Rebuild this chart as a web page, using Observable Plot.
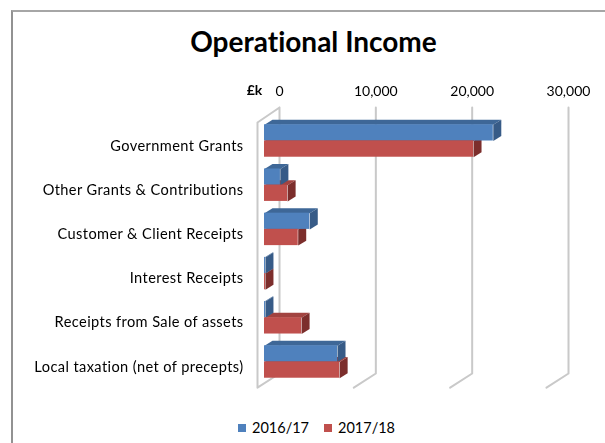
<!DOCTYPE html>
<html><head><meta charset="utf-8">
<script src="https://cdn.jsdelivr.net/npm/d3@7"></script>
<script src="https://cdn.jsdelivr.net/npm/@observablehq/plot@0.6"></script>
<style>
html,body{margin:0;padding:0;background:#fff;overflow:hidden}
body{width:605px;height:443px;position:relative;font-family:Lato,sans-serif;color:#000;font-variant-ligatures:none}
#frame{position:absolute;left:11px;top:10px;right:0;bottom:0;border-left:2px solid #929292;border-top:2px solid #a6a6a6}
#title{position:absolute;left:22px;right:0;top:23px;text-align:center;font-weight:700;font-size:28px;line-height:36px}
#chart{position:absolute;left:0;top:70px;filter:blur(.35px)}
#chart g[aria-label="y-axis tick label"] text{letter-spacing:.4px}
#legend{position:absolute;left:238px;top:419px;display:flex;align-items:center;font-size:14.5px;line-height:18px}
#legend i{display:inline-block;width:8px;height:8px;margin-right:6px}
#legend span{display:flex;align-items:center;margin-right:15px}
</style></head>
<body>
<div id="frame"></div>
<div id="title">Operational Income</div>
<div id="chart"></div>
<div id="legend"></div>
<script>
const categories = ["Government Grants","Other Grants & Contributions","Customer & Client Receipts","Interest Receipts","Receipts from Sale of assets","Local taxation (net of precepts)"];
const series = ["2016/17","2017/18"];
const values2016 = [23750,1650,4700,100,100,7580];
const values2017 = [21700,2400,3500,100,3850,7800];
const xTicks = [0,10000,20000,30000];
const blue = {front:"#4f81bd",top:"#3e6797",side:"#375b87"};
const red = {front:"#c0504d",top:"#a24340",side:"#7c2e2c"};
const unitLabel = "£k";

// depth of the 3D projection, in data units
const barDx = 830, barDy = 0.113, barH = 0.367;
const wallFrontX = -727, wallBackX = 1558;
const wallTopBack = -0.758, wallTopFront = -0.419, wallBotBack = 5.26, wallBotFront = 5.58;

const rows = (vals, off) => vals.map((v,i)=>({v,i,y1:i+off-barH,y2:i+off}));
const b = rows(values2016,0), r = rows(values2017,barH);

const poly = pts => pts.map(([x,y,k])=>({x,y,k}));
const topFaces = s => s.flatMap((d,n)=>poly([[0,d.y1,n],[d.v,d.y1,n],[d.v+barDx,d.y1-barDy,n],[barDx,d.y1-barDy,n]]));
const sideFaces = s => s.flatMap((d,n)=>poly([[d.v,d.y1,n],[d.v+barDx,d.y1-barDy,n],[d.v+barDx,d.y2-barDy,n],[d.v,d.y2,n]]));
const faceMark = (pts,fill)=>Plot.line(pts,{x:"x",y:"y",z:"k",fill,stroke:"none",curve:"linear"});
const grid = xTicks.flatMap(t=>{
  const pts = t===0
   ? [[t+wallBackX,wallTopBack],[t+wallFrontX,wallTopFront],[t+wallFrontX,wallBotFront],[t+wallBackX,wallBotBack],[t+wallBackX,wallTopBack]]
   : [[t+wallBackX,wallTopBack],[t+wallBackX,wallBotBack],[t+wallFrontX,wallBotFront]];
  return pts.map(([x,y])=>({x,y,k:t}));
});
const backFaces = (s,c)=>[faceMark(topFaces(s),c.top),faceMark(sideFaces(s),c.side)];
const frontFace = (s,c)=>Plot.rect(s,{x1:0,x2:"v",y1:"y1",y2:"y2",fill:c.front});
const plot = Plot.plot({
  width:605,height:330,
  marginLeft:264,marginRight:52,marginTop:48.4,marginBottom:16.4,
  style:{fontFamily:"Lato, sans-serif",fontSize:"14px",background:"transparent",overflow:"visible",fontVariantLigatures:"none"},
  x:{domain:[0,30000],label:null},
  y:{domain:[-0.5,5.5],reverse:true,label:null},
  marks:[
    Plot.line(grid,{x:"x",y:"y",z:"k",stroke:"#c9c9c9",strokeWidth:2,curve:"linear"}),
    ...backFaces(r,red),
    ...backFaces(b,blue),
    frontFace(b,blue),
    frontFace(r,red),
    Plot.axisX({anchor:"top",ticks:xTicks,tickSize:0,tickPadding:0,tickFormat:d3.format(","),dx:15,dy:-23,fontSize:14,label:null,color:"#000"}),
    Plot.axisY({ticks:d3.range(categories.length),tickSize:0,tickPadding:21,tickFormat:i=>categories[i],dy:5,fontSize:14.6,label:null,color:"#000"}),
    Plot.text([unitLabel],{frameAnchor:"top-left",dx:-10,dy:-34,fontWeight:700,fontSize:14,textAnchor:"middle"})
  ]
});
document.getElementById("chart").append(plot);
const lg = document.getElementById("legend");
[[series[0],blue.front],[series[1],red.front]].forEach(([t,c])=>{
  const s=document.createElement("span");
  const i=document.createElement("i");i.style.background=c;
  s.append(i,document.createTextNode(t));lg.append(s);
});
</script>
</body></html>
